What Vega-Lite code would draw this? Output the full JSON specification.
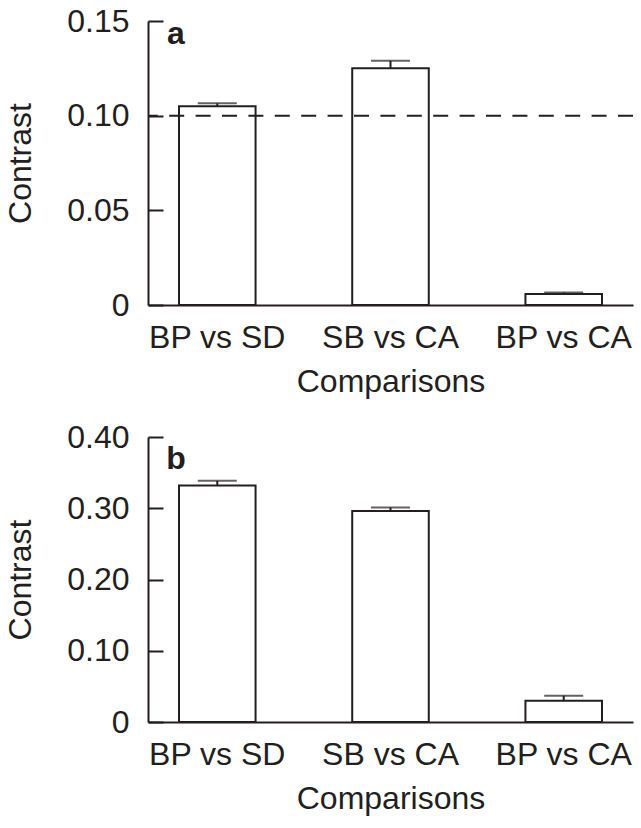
{
  "$schema": "https://vega.github.io/schema/vega-lite/v6.json",
  "padding": {"left": 4, "top": 5, "right": 5, "bottom": 5},
  "spacing": 24,
  "config": {
    "view": {"stroke": null},
    "font": "Liberation Sans",
    "axis": {
      "labelFont": "Liberation Sans", "labelFontSize": 32, "titleFont": "Liberation Sans", "titleFontSize": 32,
      "titleFontWeight": "normal", "labelColor": "#231f20", "titleColor": "#231f20",
      "domainColor": "#231f20", "tickColor": "#231f20", "domainWidth": 2, "tickWidth": 2, "grid": false
    }
  },
  "vconcat": [
    {
      "width": 485, "height": 284,
      "data": {"values": [
        {"cmp": "BP vs SD", "contrast": 0.105, "upper": 0.1065},
        {"cmp": "SB vs CA", "contrast": 0.125, "upper": 0.129},
        {"cmp": "BP vs CA", "contrast": 0.0058, "upper": 0.0066}
      ]},
      "layer": [
        {
          "mark": {"type": "bar", "fill": "white", "stroke": "#231f20", "strokeWidth": 2},
          "encoding": {
            "x": {"field": "cmp", "type": "nominal", "sort": null,
              "scale": {"domain": ["BP vs SD", "SB vs CA", "BP vs CA"], "paddingInner": 0.558, "paddingOuter": 0.179},
              "axis": {"title": "Comparisons", "labelAngle": 0, "ticks": false, "labelPadding": 17, "titlePadding": 13}},
            "y": {"field": "contrast", "type": "quantitative", "scale": {"domain": [0, 0.15], "nice": false},
              "axis": {"title": "Contrast", "values": [0, 0.05, 0.1, 0.15], "tickSize": -15, "labelPadding": 34, "titlePadding": 29,
                "labelExpr": "datum.value == 0 ? '0' : format(datum.value, '.2f')"}}
          }
        },
        {
          "mark": {"type": "rule", "color": "#231f20", "strokeWidth": 2},
          "encoding": {
            "x": {"field": "cmp", "type": "nominal", "sort": null},
            "y": {"field": "contrast", "type": "quantitative"},
            "y2": {"field": "upper"}
          }
        },
        {
          "mark": {"type": "tick", "color": "#231f20", "size": 39, "thickness": 2},
          "encoding": {
            "x": {"field": "cmp", "type": "nominal", "sort": null},
            "y": {"field": "upper", "type": "quantitative"}
          }
        },
        {
          "data": {"values": [{"ref": 0.1}]},
          "mark": {"type": "rule", "color": "#231f20", "strokeWidth": 2, "strokeDash": [15, 11.4]},
          "encoding": {"y": {"field": "ref", "type": "quantitative"}}
        },
        {
          "data": {"values": [{"cmp": "BP vs SD", "panel": "a", "pos": 0.138}]},
          "mark": {"type": "text", "fontWeight": "bold", "fontSize": 32, "baseline": "alphabetic", "align": "center", "dx": -3, "color": "#231f20"},
          "encoding": {
            "x": {"field": "cmp", "type": "nominal", "sort": null, "bandPosition": 0},
            "y": {"field": "pos", "type": "quantitative"},
            "text": {"field": "panel"}
          }
        }
      ]
    },
    {
      "width": 485, "height": 285,
      "data": {"values": [
        {"cmp": "BP vs SD", "contrast": 0.332, "upper": 0.3385},
        {"cmp": "SB vs CA", "contrast": 0.296, "upper": 0.301},
        {"cmp": "BP vs CA", "contrast": 0.030, "upper": 0.037}
      ]},
      "layer": [
        {
          "mark": {"type": "bar", "fill": "white", "stroke": "#231f20", "strokeWidth": 2},
          "encoding": {
            "x": {"field": "cmp", "type": "nominal", "sort": null,
              "scale": {"domain": ["BP vs SD", "SB vs CA", "BP vs CA"], "paddingInner": 0.558, "paddingOuter": 0.179},
              "axis": {"title": "Comparisons", "labelAngle": 0, "ticks": false, "labelPadding": 17, "titlePadding": 13}},
            "y": {"field": "contrast", "type": "quantitative", "scale": {"domain": [0, 0.4], "nice": false},
              "axis": {"title": "Contrast", "values": [0, 0.1, 0.2, 0.3, 0.4], "tickSize": -15, "labelPadding": 34, "titlePadding": 29,
                "labelExpr": "datum.value == 0 ? '0' : format(datum.value, '.2f')"}}
          }
        },
        {
          "mark": {"type": "rule", "color": "#231f20", "strokeWidth": 2},
          "encoding": {
            "x": {"field": "cmp", "type": "nominal", "sort": null},
            "y": {"field": "contrast", "type": "quantitative"},
            "y2": {"field": "upper"}
          }
        },
        {
          "mark": {"type": "tick", "color": "#231f20", "size": 39, "thickness": 2},
          "encoding": {
            "x": {"field": "cmp", "type": "nominal", "sort": null},
            "y": {"field": "upper", "type": "quantitative"}
          }
        },
        {
          "data": {"values": [{"cmp": "BP vs SD", "panel": "b", "pos": 0.355}]},
          "mark": {"type": "text", "fontWeight": "bold", "fontSize": 32, "baseline": "alphabetic", "align": "center", "dx": -3, "color": "#231f20"},
          "encoding": {
            "x": {"field": "cmp", "type": "nominal", "sort": null, "bandPosition": 0},
            "y": {"field": "pos", "type": "quantitative"},
            "text": {"field": "panel"}
          }
        }
      ]
    }
  ]
}
